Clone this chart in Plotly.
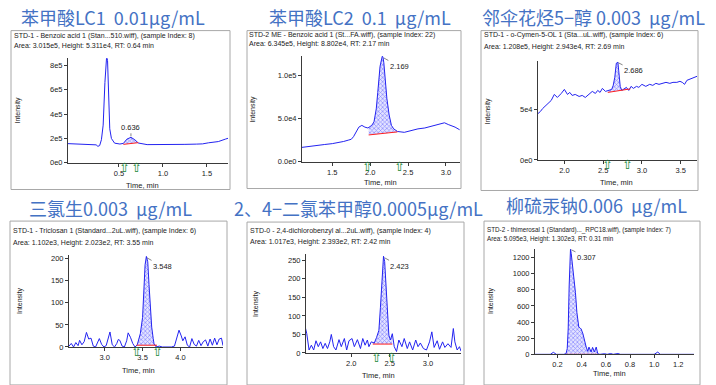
import numpy as np
import plotly.graph_objects as go

W, H = 716, 385

# ---------------- data ----------------
titles = ["苯甲酸LC1  0.01μg/mL", "苯甲酸LC2  0.1  μg/mL", "邻伞花烃5−醇 0.003  μg/mL",
          "三氯生0.003  μg/mL", "2、4−二氯苯甲醇0.0005μg/mL", "柳硫汞钠0.006  μg/mL"]
headers1 = ["STD-1 - Benzoic acid 1 (Stan...510.wiff), (sample Index: 8)",
            "STD-2 ME - Benzoic acid 1 (St...FA.wiff), (sample Index: 22)",
            "STD-1 - o-Cymen-5-OL 1 (Sta...uL.wiff), (sample Index: 6)",
            "STD-1 - Triclosan 1 (Standard...2uL.wiff), (sample Index: 6)",
            "STD-0 - 2,4-dichlorobenzyl al...2uL.wiff), (sample Index: 4)",
            "STD-2 - thimerosal 1 (Standard)..._RPC18.wiff), (sample Index: 7)"]
headers2 = ["Area: 3.015e5, Height: 5.311e4, RT: 0.64 min",
            "Area: 6.345e5, Height: 8.802e4, RT: 2.17 min",
            "Area: 1.208e5, Height: 2.943e4, RT: 2.69 min",
            "Area: 1.102e3, Height: 2.023e2, RT: 3.55 min",
            "Area: 1.017e3, Height: 2.393e2, RT: 2.42 min",
            "Area: 5.095e3, Height: 1.302e3, RT: 0.31 min"]

t1 = [-0.08, 0.0, 0.1, 0.2, 0.24, 0.26, 0.28, 0.30, 0.32, 0.34,
      0.36, 0.37, 0.38, 0.395, 0.414, 0.45, 0.51, 0.55, 0.59, 0.636,
      0.68, 0.72, 0.82, 0.95, 1.1, 1.25, 1.38, 1.45, 1.52, 1.63,
      1.71, 1.74]
v1 = [1.58e5, 1.56e5, 1.57e5, 1.55e5, 1.48e5, 1.36e5, 1.42e5, 1.9e5, 3.1e5, 6.6e5,
      8.8e5, 8.4e5, 5.3e5, 2.8e5, 2.0e5, 1.62e5, 1.55e5, 1.6e5, 1.95e5, 2.1e5,
      1.9e5, 1.63e5, 1.5e5, 1.49e5, 1.5e5, 1.52e5, 1.54e5, 1.56e5, 1.65e5, 1.75e5,
      1.95e5, 2.02e5]

t2 = [1.10, 1.16, 1.22, 1.30, 1.40, 1.50, 1.58, 1.65, 1.71, 1.75,
      1.78, 1.82, 1.85, 1.89, 1.93, 1.97, 2.02, 2.05, 2.08, 2.10,
      2.13, 2.16, 2.17, 2.18, 2.20, 2.22, 2.25, 2.28, 2.31, 2.36,
      2.45, 2.54, 2.63, 2.72, 2.81, 2.90, 2.95, 2.98, 3.03, 3.07,
      3.12, 3.18]
v2 = [1.67e4, 1.72e4, 1.8e4, 1.85e4, 2.0e4, 2.1e4, 2.2e4, 2.35e4, 2.5e4, 2.6e4,
      2.9e4, 3.5e4, 4.0e4, 4.2e4, 4.0e4, 3.9e4, 4.2e4, 4.6e4, 6.1e4, 8.0e4,
      1.1e5, 1.22e5, 1.2e5, 1.14e5, 9.2e4, 7.3e4, 5.4e4, 4.2e4, 3.8e4, 3.5e4,
      3.4e4, 3.6e4, 3.8e4, 3.9e4, 4.1e4, 4.3e4, 4.4e4, 4.5e4, 4.3e4, 4.2e4,
      4.0e4, 3.7e4]

t3 = [1.66, 1.69, 1.72, 1.75, 1.79, 1.83, 1.87, 1.91, 1.96, 2.00,
      2.04, 2.07, 2.10, 2.14, 2.19, 2.23, 2.27, 2.32, 2.36, 2.40,
      2.43, 2.46, 2.49, 2.53, 2.57, 2.61, 2.63, 2.65, 2.67, 2.69,
      2.70, 2.72, 2.74, 2.76, 2.80, 2.83, 2.86, 2.89, 2.93, 2.96,
      3.00, 3.05, 3.10, 3.14, 3.18, 3.22, 3.27, 3.31, 3.36, 3.40,
      3.45, 3.49, 3.52, 3.55, 3.58, 3.62, 3.66, 3.71]
v3 = [4.6e4, 4.8e4, 5.1e4, 5.3e4, 5.6e4, 5.9e4, 6.5e4, 6.2e4, 6.6e4, 7.0e4,
      6.5e4, 6.7e4, 6.4e4, 6.5e4, 6.3e4, 6.4e4, 6.2e4, 6.5e4, 6.8e4, 6.6e4,
      6.9e4, 6.7e4, 7.1e4, 6.8e4, 6.9e4, 7.0e4, 7.4e4, 8.2e4, 9.6e4, 9.7e4,
      8.9e4, 7.3e4, 6.9e4, 7.0e4, 7.2e4, 6.9e4, 7.3e4, 7.1e4, 7.3e4, 7.2e4,
      7.5e4, 7.3e4, 7.5e4, 7.4e4, 7.6e4, 7.5e4, 7.6e4, 7.7e4, 7.6e4, 7.7e4,
      7.7e4, 7.8e4, 7.7e4, 7.5e4, 7.9e4, 8.0e4, 8.1e4, 8.3e4]

t4 = [2.53, 2.56, 2.59, 2.62, 2.65, 2.67, 2.70, 2.73, 2.76, 2.79,
      2.82, 2.85, 2.88, 2.91, 2.93, 2.96, 2.99, 3.02, 3.05, 3.07,
      3.10, 3.13, 3.16, 3.18, 3.20, 3.23, 3.26, 3.29, 3.31, 3.34,
      3.37, 3.40, 3.43, 3.45, 3.47, 3.50, 3.516, 3.533, 3.55, 3.568,
      3.585, 3.60, 3.62, 3.64, 3.65, 3.68, 3.72, 3.76, 3.80, 3.84,
      3.88, 3.92, 3.95, 3.98, 4.01, 4.03, 4.06, 4.09, 4.12, 4.15,
      4.18, 4.21, 4.24, 4.27, 4.30, 4.33, 4.36, 4.39, 4.42, 4.45,
      4.48, 4.51, 4.54, 4.56]
v4 = [2, 8, 0, 10, 3, 15, 5, 12, 33, 18,
      20, 2, 0, 12, 19, 6, 0, 3, 20, 34,
      5, 0, 8, 17, 15, 2, 0, 14, 32, 22,
      8, 0, 5, 19, 30, 67, 134, 186, 205, 193,
      141, 97, 45, 19, 8, 0, 2, 0, 0, 0,
      0, 2, 20, 38, 25, 14, 23, 4, 0, 19,
      6, 2, 15, 3, 12, 16, 2, 18, 4, 20,
      5, 18, 20, 3]

t5 = [1.40, 1.42, 1.45, 1.48, 1.51, 1.54, 1.57, 1.60, 1.63, 1.66,
      1.69, 1.72, 1.74, 1.77, 1.80, 1.84, 1.87, 1.91, 1.94, 1.97,
      2.01, 2.04, 2.08, 2.12, 2.15, 2.18, 2.21, 2.23, 2.26, 2.30,
      2.33, 2.36, 2.38, 2.40, 2.42, 2.435, 2.45, 2.47, 2.49, 2.51,
      2.535, 2.56, 2.59, 2.62, 2.66, 2.69, 2.73, 2.76, 2.80, 2.84,
      2.87, 2.90, 2.94, 2.98, 3.02, 3.05, 3.08, 3.12, 3.15, 3.19,
      3.22, 3.26, 3.30, 3.33, 3.35, 3.38, 3.41, 3.43]
v5 = [70, 52, 8, 21, 8, 33, 17, 30, 12, 26,
      12, 30, 50, 17, 8, 36, 17, 39, 8, 33,
      39, 17, 36, 12, 39, 21, 35, 17, 30, 27,
      42, 61, 123, 194, 261, 247, 185, 97, 48, 35,
      52, 17, 4, 35, 17, 39, 12, 30, 8, 35,
      17, 27, 12, 8, 30, 57, 15, 33, 10, 30,
      15, 25, 15, 66, 30, 8, 17, 5]

t6 = [0.013, 0.10, 0.14, 0.165, 0.19, 0.25, 0.27, 0.28, 0.288, 0.296,
      0.300, 0.307, 0.313, 0.320, 0.332, 0.34, 0.348, 0.36, 0.368, 0.376,
      0.385, 0.395, 0.41, 0.423, 0.437, 0.45, 0.46, 0.478, 0.49, 0.505,
      0.52, 0.533, 0.55, 0.59, 0.61, 0.64, 0.66, 0.70, 0.72, 1.0,
      1.03, 1.05, 1.33]
v6 = [0, 0, 0, 25, 0, 0, 8, 70, 315, 847,
      1174, 1302, 1250, 1150, 1000, 900, 765, 520, 400, 335,
      330, 315, 254, 151, 90, 37, 90, 29, 86, 29,
      90, 8, 0, 8, 0, 10, 0, 10, 0, 0,
      28, 0, 0]

times = [t1, t2, t3, t4, t5, t6]
values = [v1, v2, v3, v4, v5, v6]

# integration windows (start, end) and baseline values at start/end
win_t = [[0.55, 0.72], [1.98, 2.36], [2.56, 2.85], [3.42, 3.69], [2.28, 2.535], [0.27, 0.53]]
win_v = [[1.52e5, 1.66e5], [3.1e4, 3.45e4], [6.7e4, 7.05e4], [4, 4], [24, 24], [0, 0]]
marker_t = [[0.56, 0.70], [1.96, 2.38], [2.55, 2.81], [3.42, 3.69], [2.33, 2.53], []]
rt_labels = ["0.636", "2.169", "2.686", "3.548", "2.423", "0.307"]
rt_vals = [0.636, 2.169, 2.686, 3.548, 2.423, 0.307]

x_tickvals = [[0.5, 1.0, 1.5], [1.5, 2.0, 2.5, 3.0], [2.0, 2.5, 3.0, 3.5], [3.0, 3.5, 4.0],
              [2.0, 2.5, 3.0], [0.2, 0.4, 0.6, 0.8, 1.0, 1.2]]
x_ticktext = [["0.5", "1.0", "1.5"], ["1.5", "2.0", "2.5", "3.0"], ["2.0", "2.5", "3.0", "3.5"],
              ["3.0", "3.5", "4.0"], ["2.0", "2.5", "3.0"], ["0.2", "0.4", "0.6", "0.8", "1.0", "1.2"]]
y_tickvals = [[0, 2e5, 4e5, 6e5, 8e5], [0, 5e4, 1e5], [0, 5e4], [0, 50, 100, 150, 200],
              [0, 50, 100, 150, 200, 250], [0, 200, 400, 600, 800, 1000, 1200]]
y_ticktext = [["0e0", "2e5", "4e5", "6e5", "8e5"], ["0.0e0", "5.0e4", "1.0e5"], ["0e0", "5e4"],
              ["0", "50", "100", "150", "200"], ["0", "50", "100", "150", "200", "250"],
              ["0", "200", "400", "600", "800", "1000", "1200"]]
x_ranges = [[-0.08, 1.74], [1.10, 3.185], [1.66, 3.71], [2.53, 4.56], [1.41, 3.43], [0.013, 1.33]]
y_ranges = [[0, 8.6e5], [0, 1.216e5], [0, 9.8e4], [-1, 209], [-1, 268], [0, 1310]]

# ---------------- layout geometry (pixels) ----------------
plot_px = [(68, 228, 59, 165), (302, 460, 57, 164), (538, 697, 62, 162),
           (69, 223, 258, 352), (306, 461, 257, 358), (535, 694, 252, 359)]
box_px = [(11, 230, 31, 192), (247, 461, 31, 191), (481, 698, 31, 193),
          (10, 227, 224, 390), (247, 464, 225, 390), (484, 700, 224, 390)]
title_px = [(113, 17), (360, 17), (593, 17), (110, 211), (358, 211), (596, 208)]
head_px = [(12, 36, 47), (247, 35, 45), (482, 35, 48), (11, 234, 246), (248, 234, 245), (485, 233, 242)]
head_size = [7.0, 7.0, 7.0, 7.0, 7.0, 6.3]
ylab_px = [(18, 112), (253, 110), (488, 112), (20, 305), (256, 308), (491, 305)]
xlab_px = [(142, 188), (380, 185), (616, 185), (138, 375), (378, 380), (609, 378)]
rt_off = [(0, -10), (16, 9), (16, 8), (16, 9), (16, 9), (16, 8)]

def px(x):
    return x / W

def py(y):
    return 1 - y / H

fig = go.Figure()
annotations = []
shapes = []
BLUE = "#2323f0"
TXT = "#222222"

for i in range(6):
    n = i + 1
    xa = "x" if n == 1 else f"x{n}"
    ya = "y" if n == 1 else f"y{n}"
    t = np.array(times[i], dtype=float)
    v = np.array(values[i], dtype=float)
    ws, we = win_t[i]
    bs, be = win_v[i]

    # baseline (for fill reference)
    fig.add_trace(go.Scatter(x=[ws, we], y=[bs, be], xaxis=xa, yaxis=ya, mode="lines",
                             line=dict(color="rgba(0,0,0,0)", width=0), showlegend=False,
                             hoverinfo="skip"))
    # peak segment from main data, hatched fill down to baseline
    inside = (t > ws) & (t < we)
    seg_t = np.concatenate([[ws], t[inside], [we]])
    seg_v = np.concatenate([[np.interp(ws, t, v)], v[inside], [np.interp(we, t, v)]])
    fig.add_trace(go.Scatter(x=seg_t, y=seg_v, xaxis=xa, yaxis=ya, mode="lines",
                             line=dict(width=0, color="rgba(0,0,0,0)"), fill="tonexty",
                             fillcolor="rgba(170,170,255,0.35)",
                             fillpattern=dict(shape="x", fgcolor="#2a2aff", bgcolor="rgba(220,220,255,0.8)",
                                              size=3, solidity=0.4),
                             showlegend=False, hoverinfo="skip"))
    # main chromatogram line
    fig.add_trace(go.Scatter(x=t, y=v, xaxis=xa, yaxis=ya, mode="lines",
                             line=dict(color=BLUE, width=1), showlegend=False))
    # red baseline
    fig.add_trace(go.Scatter(x=[ws, we], y=[bs, be], xaxis=xa, yaxis=ya, mode="lines",
                             line=dict(color="#ff2020", width=1), showlegend=False, hoverinfo="skip"))

    x0, x1, y0, y1 = plot_px[i]
    axis_common = dict(showline=True, linecolor="#3a3a3a", linewidth=1, ticks="outside",
                       ticklen=3, tickwidth=1, tickcolor="#3a3a3a", showgrid=False, zeroline=False,
                       tickfont=dict(family="Liberation Sans", size=7.5, color=TXT), fixedrange=True)
    fig.update_layout(**{
        ("xaxis" if n == 1 else f"xaxis{n}"): dict(
            domain=[px(x0), px(x1)], range=x_ranges[i], anchor=ya,
            tickvals=x_tickvals[i], ticktext=x_ticktext[i], **axis_common),
        ("yaxis" if n == 1 else f"yaxis{n}"): dict(
            domain=[py(y1), py(y0)], range=y_ranges[i], anchor=xa,
            tickvals=y_tickvals[i], ticktext=y_ticktext[i], **axis_common),
    })

    # panel box
    bx0, bx1, by0, by1 = box_px[i]
    shapes.append(dict(type="rect", xref="paper", yref="paper", x0=px(bx0), x1=px(bx1),
                       y0=py(by1), y1=py(by0), line=dict(color="#a8a8a8", width=1),
                       fillcolor="rgba(0,0,0,0)", layer="below"))
    # title
    tx, ty = title_px[i]
    annotations.append(dict(xref="paper", yref="paper", x=px(tx), y=py(ty), text=titles[i],
                            showarrow=False, xanchor="center", yanchor="middle",
                            font=dict(family="Noto Sans CJK SC", size=18, color="#4472c4")))
    # header lines
    hx, hy1, hy2 = head_px[i]
    for txt, hy in ((headers1[i], hy1), (headers2[i], hy2)):
        annotations.append(dict(xref="paper", yref="paper", x=px(hx), y=py(hy), text=txt,
                                showarrow=False, xanchor="left", yanchor="middle",
                                font=dict(family="Liberation Sans", size=head_size[i], color=TXT)))
    # axis titles
    lx, ly = ylab_px[i]
    annotations.append(dict(xref="paper", yref="paper", x=px(lx), y=py(ly), text="Intensity",
                            showarrow=False, textangle=-90, xanchor="center", yanchor="middle",
                            font=dict(family="Liberation Sans", size=7, color=TXT)))
    tx2, ty2 = xlab_px[i]
    annotations.append(dict(xref="paper", yref="paper", x=px(tx2), y=py(ty2), text="Time, min",
                            showarrow=False, xanchor="center", yanchor="middle",
                            font=dict(family="Liberation Sans", size=7.5, color=TXT)))
    # RT label with leader
    pk = float(np.interp(rt_vals[i], t, v))
    ox, oy = rt_off[i]
    annotations.append(dict(xref=xa, yref=ya, x=rt_vals[i], y=pk, text=rt_labels[i],
                            showarrow=True, arrowhead=0, arrowwidth=0.6, arrowcolor="#333",
                            ax=ox, ay=oy, standoff=1,
                            font=dict(family="Liberation Sans", size=7.5, color=TXT)))
    # integration markers (green arrows)
    for mt in marker_t[i]:
        annotations.append(dict(xref=xa, yref=f"{ya} domain", x=mt, y=0, text="⇧",
                                showarrow=False, xanchor="center", yanchor="top", yshift=5,
                                font=dict(family="DejaVu Sans", size=13, color="#1a8a3a")))

fig.update_layout(width=W, height=H, margin=dict(l=0, r=0, t=0, b=0),
                  paper_bgcolor="white", plot_bgcolor="white",
                  annotations=annotations, shapes=shapes, showlegend=False)

fig.write_html("out.html", config={"displayModeBar": False},
               post_script="document.body.style.margin='0px';document.body.style.overflow='hidden';")
